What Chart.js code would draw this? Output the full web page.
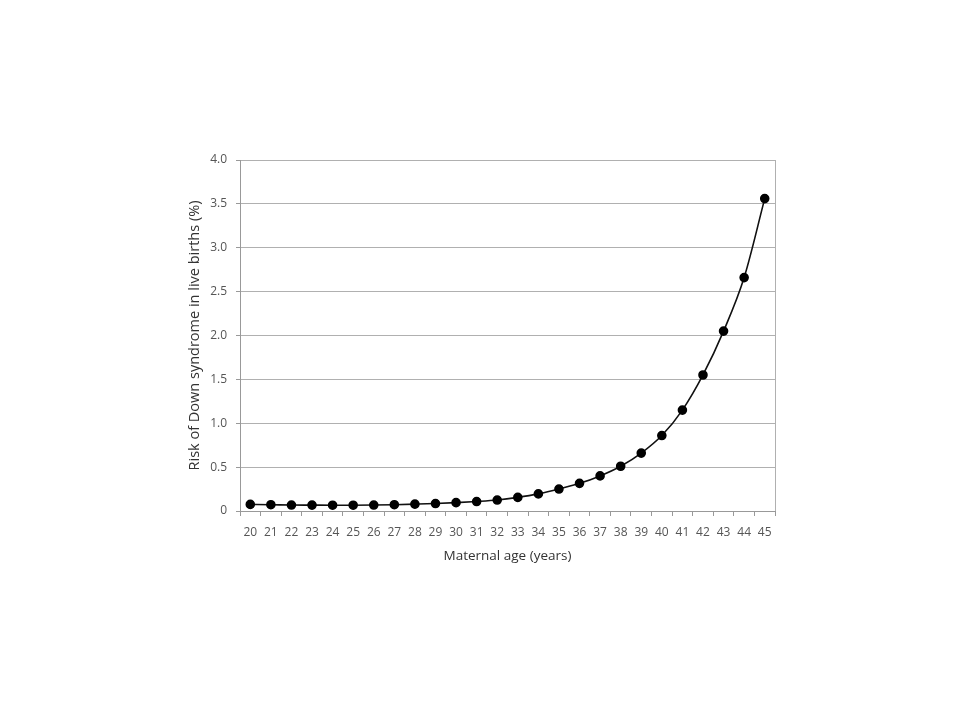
<!DOCTYPE html>
<html>
<head>
<meta charset="utf-8">
<script src="https://cdn.jsdelivr.net/npm/chart.js@4"></script>
<style>
    html, body { margin: 0; padding: 0; background: #fff; }
    #wrap { width: 960px; height: 720px; }
</style>
</head>
<body>
<div id="wrap"><canvas id="riskChart" width="960" height="720"></canvas></div>
<script>
// 산모 나이 (years)
const ages = ["20", "21", "22", "23", "24", "25", "26", "27", "28", "29", "30", "31", "32",
              "33", "34", "35", "36", "37", "38", "39", "40", "41", "42", "43", "44", "45"];

// 다운증후군 위험도 (%), 그림에서 읽은 값
const riskValues = [0.075, 0.072, 0.068, 0.067, 0.066, 0.066, 0.068, 0.072, 0.078, 0.085, 0.095, 0.108, 0.125,
                    0.155, 0.195, 0.25, 0.315, 0.40, 0.51, 0.66, 0.86, 1.15, 1.55, 2.05, 2.66, 3.56];

const yTicks = [0, 0.5, 1.0, 1.5, 2.0, 2.5, 3.0, 3.5, 4.0];

const fontFamily = "'Open Sans', 'Noto Sans', sans-serif";

// 오른쪽 테두리 선
const rightBorder = {
    id: "rightBorder",
    afterDraw(chart) {
        const { ctx, chartArea } = chart;
        ctx.save();
        ctx.strokeStyle = "#b0b0b0";
        ctx.lineWidth = 1;
        ctx.beginPath();
        ctx.moveTo(chartArea.right + 0.5, chartArea.top);
        ctx.lineTo(chartArea.right + 0.5, chartArea.bottom);
        ctx.stroke();
        ctx.restore();
    }
};

const ctx = document.getElementById("riskChart").getContext("2d");
new Chart(ctx, {
    type: "line",
    data: {
        labels: ages,
        datasets: [{
            label: "Risk",
            data: riskValues,
            borderColor: "#111",
            borderWidth: 1.6,
            backgroundColor: "#000",
            pointBackgroundColor: "#000",
            pointBorderColor: "#000",
            pointRadius: 4,
            cubicInterpolationMode: "monotone",
            fill: false
        }]
    },
    options: {
        responsive: false,
        animation: false,
        layout: { padding: { left: 182, right: 185, top: 160, bottom: 152 } },
        plugins: {
            legend: { display: false },
            tooltip: { enabled: false }
        },
        scales: {
            x: {
                type: "category",
                offset: true,
                afterFit(scale) { scale.height = 57; },
                grid: {
                    offset: true,
                    drawOnChartArea: false,
                    drawTicks: true,
                    tickLength: 5,
                    color: "#999"
                },
                border: { color: "#999" },
                ticks: {
                    color: "#555",
                    padding: 9,
                    maxRotation: 0,
                    autoSkip: false,
                    font: { family: fontFamily, size: 12 }
                },
                title: {
                    display: true,
                    text: "Maternal age (years)",
                    color: "#333",
                    padding: 4,
                    font: { family: fontFamily, size: 13.5 }
                }
            },
            y: {
                min: 0,
                max: 4,
                afterFit(scale) { scale.width = 58; },
                afterBuildTicks(scale) { scale.ticks = yTicks.map(v => ({ value: v })); },
                grid: {
                    color: "#b0b0b0",
                    tickLength: 4,
                    tickColor: "#999"
                },
                border: { color: "#999" },
                ticks: {
                    color: "#555",
                    padding: 9,
                    font: { family: fontFamily, size: 12 },
                    callback: v => v === 0 ? "0" : v.toFixed(1)
                },
                title: {
                    display: true,
                    text: "Risk of Down syndrome in live births (%)",
                    color: "#333",
                    padding: 4,
                    font: { family: fontFamily, size: 14.5 }
                }
            }
        }
    },
    plugins: [rightBorder]
});
</script>
</body>
</html>
